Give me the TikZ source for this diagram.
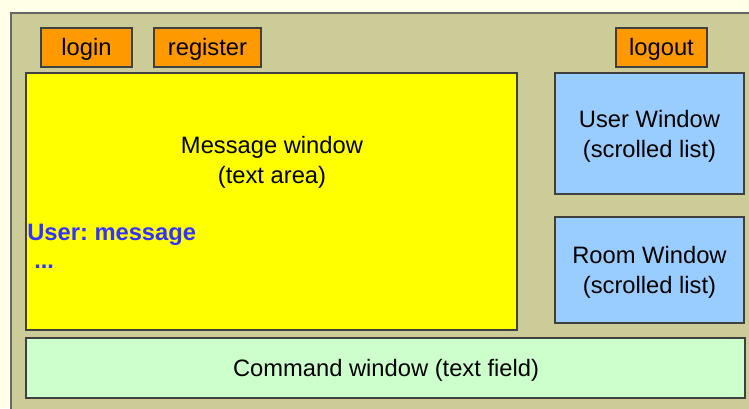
\documentclass[tikz,border=0pt]{standalone}
\usepackage{fontspec}
\setmainfont{Liberation Sans}
\frenchspacing
\begin{document}
\begin{tikzpicture}[x=0.75pt,y=-0.75pt,
  box/.style={draw=black!75,line width=0.8pt},
  btn/.style={box,fill=orange1},
  lbl/.style={font=\fontsize{17.8}{22.5}\selectfont,align=center,inner sep=0pt}]
\definecolor{orange1}{HTML}{FF9900}
\definecolor{bgcream}{HTML}{FFFFE8}
\definecolor{khaki}{HTML}{CCCC99}
\definecolor{yel}{HTML}{FFFF00}
\definecolor{lblue}{HTML}{99CCFF}
\definecolor{lgreen}{HTML}{CCFFCC}
\definecolor{ublue}{HTML}{3333FF}
\useasboundingbox (0,0) rectangle (749,408);
\fill[bgcream] (0,0) rectangle (749,408);
\begin{scope}
\clip (0,0) rectangle (749,408);
\draw[box,fill=khaki,draw=black!60] (11,13) rectangle (760,420);
\end{scope}
\draw[btn] (41,28) rectangle (132,67);
\node[lbl] (login) at (86.5,49) {login};
\draw[btn] (154,28) rectangle (261,67);
\node[lbl] (register) at (207.5,49) {register};
\draw[btn] (616,28) rectangle (707,67);
\node[lbl] (logout) at (661.5,49) {logout};
\draw[box,fill=yel] (26,73) rectangle (517,330);
\node[lbl] (msg) at (272,162) {Message window\\(text area)};
\node[lbl,font=\fontsize{17.8}{22.5}\selectfont\bfseries,text=ublue,anchor=base west] (um) at (27,240) {User: message};
\node[lbl,font=\fontsize{17.8}{22.5}\selectfont\bfseries,text=ublue,anchor=base west] (dots) at (34,268) {...};
\draw[box,fill=lblue] (555,73) rectangle (744,194);
\node[lbl] (uw) at (649.5,136) {User Window\\(scrolled list)};
\draw[box,fill=lblue] (555,217) rectangle (744,323);
\node[lbl] (rw) at (649.5,272) {Room Window\\(scrolled list)};
\draw[box,fill=lgreen] (26,338) rectangle (745,398);
\node[lbl] (cw) at (386,370) {Command window (text field)};
\end{tikzpicture}
\end{document}
